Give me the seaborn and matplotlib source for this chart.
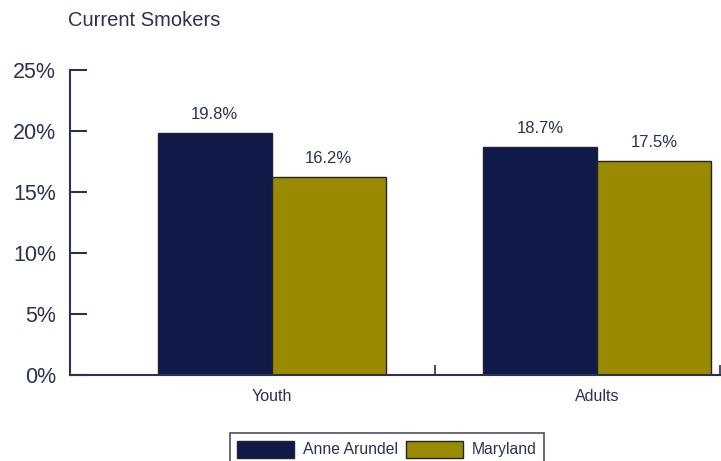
import matplotlib
matplotlib.use("Agg")
import matplotlib.pyplot as plt
import seaborn as sns
import pandas as pd
from matplotlib.patches import Patch

categories = ["Youth", "Adults"]
series = ["Anne Arundel", "Maryland"]
anne_arundel = [19.8, 18.7]
maryland = [16.2, 17.5]
labels_aa = ["19.8%", "18.7%"]
labels_md = ["16.2%", "17.5%"]
yticks = [0, 5, 10, 15, 20, 25]
ytick_labels = ["0%", "5%", "10%", "15%", "20%", "25%"]

navy = "#0f1a48"
gold = "#9a8a00"
ink = "#2b3150"

df = pd.DataFrame({
    "category": categories * 2,
    "series": [series[0]] * 2 + [series[1]] * 2,
    "value": anne_arundel + maryland,
})

sns.set_style("white")
plt.rcParams["font.family"] = ["Liberation Sans", "DejaVu Sans"]

fig = plt.figure(figsize=(7.21, 4.61), dpi=100)
ax = fig.add_axes([0.097, 0.187, 0.903, 0.661])

sns.barplot(data=df, x="category", y="value", hue="series", order=categories,
            hue_order=series, palette=[navy, gold], width=0.7, dodge=True,
            edgecolor="#222233", linewidth=1.0, saturation=1, ax=ax, legend=False)

for container, labs in zip(ax.containers, [labels_aa, labels_md]):
    ax.bar_label(container, labels=labs, padding=8, fontsize=12, color=ink)

ax.set_ylim(0, 25)
ax.set_xlim(-0.62, 1.38)
ax.set_yticks(yticks)
ax.set_yticklabels(ytick_labels, fontsize=15.5, color=ink)
ax.tick_params(axis="y", left=True, direction="in", length=12, width=1.5, color=ink, pad=10)
ax.set_xticks([0, 1])
ax.set_xticklabels(categories, fontsize=11.5, color=ink)
ax.set_xticks([0.5, 1.377], minor=True)
ax.tick_params(axis="x", which="major", bottom=True, length=0, pad=10)
ax.tick_params(axis="x", which="minor", bottom=True, direction="in", length=7, width=1.2, color=ink)
ax.set_xlabel("")
ax.set_ylabel("")
for s in ["top", "right"]:
    ax.spines[s].set_visible(False)
for s in ["left", "bottom"]:
    ax.spines[s].set_color(ink)
    ax.spines[s].set_linewidth(1.5)

fig.text(0.094, 0.955, "Current Smokers", fontsize=14.5, color=ink, ha="left", va="center")

handles = [Patch(facecolor=navy, edgecolor="#222233"), Patch(facecolor=gold, edgecolor="#222233")]
leg = fig.legend(handles, series, loc="lower center", bbox_to_anchor=(0.537, -0.025),
                 ncol=2, frameon=True, fancybox=False, fontsize=11.3, handlelength=3.6,
                 handleheight=1.3, columnspacing=0.5, handletextpad=0.6,
                 edgecolor="#222233", borderpad=0.45)
leg.get_frame().set_linewidth(1.2)
for t in leg.get_texts():
    t.set_color(ink)

fig.savefig("out.png", dpi=100)
